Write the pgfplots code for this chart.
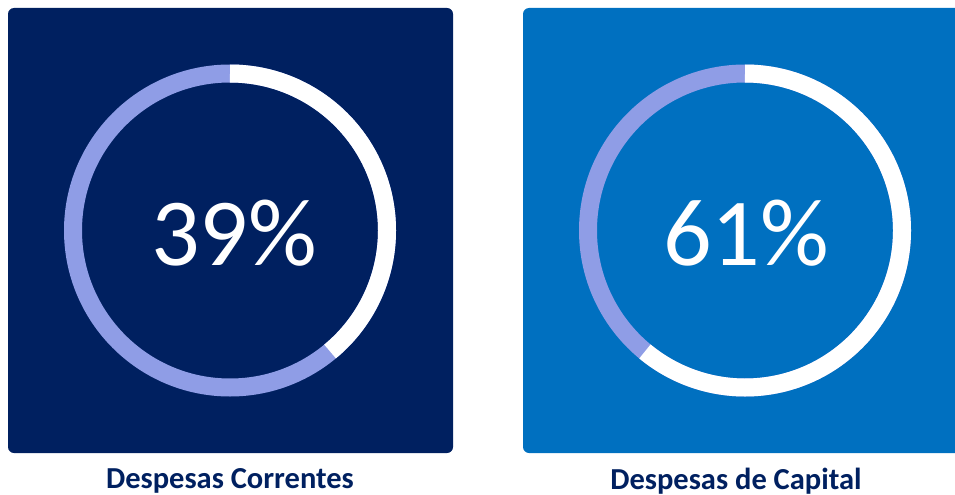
\documentclass[border=0pt]{standalone}
\usepackage{pgfplots}
\pgfplotsset{compat=1.18}
\usepackage{fontspec}
\setmainfont{Carlito}
\definecolor{navy}{HTML}{002060}
\definecolor{midblue}{HTML}{0070C0}
\definecolor{ringpurple}{HTML}{8F9DE6}
\definecolor{labelnavy}{HTML}{002060}
% values (percent)
\def\valA{39}
\def\valB{61}
\begin{document}
\begin{tikzpicture}
\begin{axis}[name=ax, at={(0,0)}, anchor=south west,
  width=955bp, height=495bp, scale only axis,
  xmin=0, xmax=955, ymin=0, ymax=495, y dir=reverse,
  hide axis, clip=true]
  % panels
  \fill[navy, rounded corners=6bp] (axis cs:8,8) rectangle (axis cs:453,453);
  \fill[midblue, rounded corners=6bp] (axis cs:523,8) rectangle (axis cs:975,453);
  % rings
  \draw[line width=18bp, ringpurple] (axis cs:230,230.5) circle[radius=157bp];
  \pgfmathsetmacro\endA{90-3.6*\valA}
  \draw[line width=18bp, white] (axis cs:230,230.5) ++(90:157bp) arc[start angle=90, end angle=\endA, radius=157bp];
  \draw[line width=18bp, ringpurple] (axis cs:745,230.5) circle[radius=157bp];
  \pgfmathsetmacro\endB{90-3.6*\valB}
  \draw[line width=18bp, white] (axis cs:745,230.5) ++(90:157bp) arc[start angle=90, end angle=\endB, radius=157bp];
  % percentages
  \node[white, font=\fontsize{96bp}{96bp}\selectfont, inner sep=0pt, anchor=base] at (axis cs:234,265) {\valA\%};
  \node[white, font=\fontsize{96bp}{96bp}\selectfont, inner sep=0pt, anchor=base] at (axis cs:746,265) {\valB\%};
  % labels
  \node[labelnavy, font=\bfseries\fontsize{30.5bp}{30.5bp}\selectfont, inner sep=0pt, anchor=base] at (axis cs:230,488) {Despesas Correntes};
  \node[labelnavy, font=\bfseries\fontsize{30.5bp}{30.5bp}\selectfont, inner sep=0pt, anchor=base] at (axis cs:736,489) {Despesas de Capital};
\end{axis}
\pgfresetboundingbox
\useasboundingbox (ax.south west) rectangle (ax.north east);
\end{tikzpicture}
\end{document}
